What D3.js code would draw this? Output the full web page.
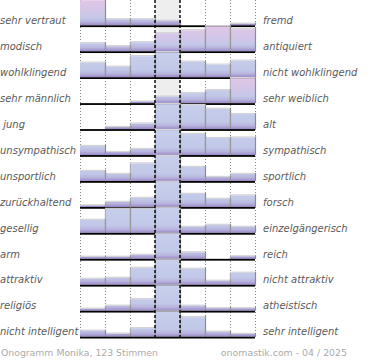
<!DOCTYPE html>
<html>
<head>
<meta charset="utf-8">
<script src="https://cdn.jsdelivr.net/npm/d3@7"></script>
<style>
  html, body { margin: 0; padding: 0; background: #fff; }
  svg { display: block; }
  text { white-space: pre; }
</style>
</head>
<body>
<svg id="chart" width="370" height="360"></svg>
<script>
// ---- data ----
const leftLabels = ["sehr vertraut", "modisch", "wohlklingend", "sehr männlich", " jung",
  "unsympathisch", "unsportlich", "zurückhaltend", "gesellig", "arm", "attraktiv", "religiös", "nicht intelligent"];
const rightLabels = ["fremd", "antiquiert", "nicht wohlklingend", "sehr weiblich", "alt",
  "sympathisch", "sportlich", "forsch", "einzelgängerisch", "reich", "nicht attraktiv", "atheistisch", "sehr intelligent"];
// relative bar heights (row maximum = 100), 7 scale steps per row
const ratings = [
  [100, 24, 24, 18, 0, 0, 6],
  [32, 20, 36, 72, 84, 100, 88],
  [58, 42, 84, 100, 62, 50, 66],
  [0, 0, 6, 26, 40, 52, 100],
  [0, 8, 22, 100, 96, 81, 60],
  [36, 12, 24, 100, 84, 68, 70],
  [40, 28, 70, 100, 56, 16, 28],
  [6, 20, 36, 100, 52, 32, 46],
  [52, 96, 96, 100, 24, 32, 24],
  [8, 8, 16, 100, 26, 0, 10],
  [24, 28, 68, 100, 64, 16, 48],
  [8, 20, 46, 100, 20, 10, 10],
  [24, 12, 34, 100, 78, 20, 11]
];
// bars marked as above-average (drawn with pink tint)
const highlighted = [
  [1, 0, 0, 0, 0, 0, 0],
  [0, 0, 0, 1, 1, 1, 1],
  [0, 0, 0, 0, 0, 0, 0],
  [0, 0, 0, 0, 0, 0, 1],
  [0, 0, 0, 0, 0, 0, 0],
  [0, 0, 0, 0, 0, 0, 0],
  [0, 0, 0, 0, 0, 0, 0],
  [0, 0, 0, 0, 0, 0, 0],
  [0, 0, 0, 0, 0, 0, 0],
  [0, 0, 0, 0, 0, 0, 0],
  [0, 0, 0, 0, 0, 0, 0],
  [0, 0, 0, 0, 0, 0, 0],
  [0, 0, 0, 0, 0, 0, 0]
];
const steps = [1, 2, 3, 4, 5, 6, 7];
const footerLeft = "Onogramm Monika, 123 Stimmen";
const footerRight = "onomastik.com - 04 / 2025";

// ---- layout ----
const svg = d3.select("#chart");
const rowStep = 25.95, rowOffset = 0.3, barMax = 25;
const plotLeft = 80, plotRight = 255;
const x = d3.scaleBand().domain(steps).range([plotLeft, plotRight]).paddingInner(0).paddingOuter(0);
const rows = d3.scaleLinear().domain([0, 1]).range([rowOffset, rowOffset + rowStep]);
const h = d3.scaleLinear().domain([0, 100]).range([0, barMax]);
const plotBottom = rows(ratings.length - 1) + barMax + 2;

const defs = svg.append("defs");
function grad(id, stops) {
  const g = defs.append("linearGradient").attr("id", id)
    .attr("gradientUnits", "userSpaceOnUse").attr("x1", 0).attr("x2", 0).attr("y1", 0).attr("y2", barMax);
  stops.forEach(s => g.append("stop").attr("offset", s[0]).attr("stop-color", s[1]));
}
grad("gBlue", [[0, "#c7cfeb"], [0.7, "#c2c8e8"], [0.86, "#b8b4de"], [1, "#9a88c6"]]);
grad("gPink", [[0, "#e0c6e6"], [0.45, "#d2c6e8"], [0.72, "#c4c8e8"], [0.86, "#b8b4de"], [1, "#9a88c6"]]);

// middle column background
svg.append("rect")
  .attr("x", x(4)).attr("y", 0).attr("width", x.bandwidth()).attr("height", plotBottom)
  .attr("fill", "#eeeeee");

// dotted grid lines
const boundaries = [plotLeft].concat(steps.map(s => x(s) + x.bandwidth()));
svg.append("g").selectAll("line")
  .data(boundaries.filter((b, i) => i !== 3 && i !== 4))
  .join("line")
  .attr("x1", d => d + 0.5).attr("x2", d => d + 0.5)
  .attr("y1", 0).attr("y2", plotBottom)
  .attr("stroke", "#888").attr("stroke-width", 1).attr("stroke-dasharray", "1,2");

// rows
ratings.forEach((vals, r) => {
  const g = svg.append("g").attr("transform", `translate(0,${rows(r)})`);
  const data = vals.map((v, i) => ({ step: steps[i], v, hl: highlighted[r][i] }));
  // top shadow line
  g.selectAll("rect.top").data(data.filter(d => d.v > 0)).join("rect").attr("class", "top")
    .attr("x", d => x(d.step)).attr("width", x.bandwidth() + 1)
    .attr("y", d => barMax - h(d.v) - 1.2).attr("height", 1.2)
    .attr("fill", "#d4d4d4");
  g.selectAll("rect.bar").data(data.filter(d => d.v > 0)).join("rect").attr("class", "bar")
    .attr("x", d => x(d.step)).attr("width", x.bandwidth())
    .attr("y", d => barMax - h(d.v)).attr("height", d => h(d.v))
    .attr("fill", d => d.hl ? "url(#gPink)" : "url(#gBlue)");
  // side edges
  g.selectAll("line.edge").data(data.filter(d => d.v > 0)).join("line").attr("class", "edge")
    .attr("x1", d => x(d.step) + x.bandwidth() + 0.5).attr("x2", d => x(d.step) + x.bandwidth() + 0.5)
    .attr("y1", d => barMax - h(d.v) - 1).attr("y2", barMax)
    .attr("stroke", "#8c8c8c").attr("stroke-width", 1.2);
  g.selectAll("line.ledge").data(data.filter(d => d.v > 0 && d.step > 1)).join("line").attr("class", "ledge")
    .attr("x1", d => x(d.step) + 0.3).attr("x2", d => x(d.step) + 0.3)
    .attr("y1", d => barMax - h(d.v)).attr("y2", barMax)
    .attr("stroke", "#a0a0a0").attr("stroke-width", 0.8);
  // baseline
  g.append("rect").attr("x", plotLeft).attr("width", plotRight - plotLeft)
    .attr("y", barMax).attr("height", 1.8).attr("fill", "#000");
  // labels
  g.append("text").attr("x", 0).attr("y", barMax - 1.3)
    .attr("font-family", "DejaVu Sans").attr("font-style", "italic").attr("font-size", 10)
    .attr("fill", "#5a5a5a").text(leftLabels[r]);
  g.append("text").attr("x", 263).attr("y", barMax - 1.3)
    .attr("font-family", "DejaVu Sans").attr("font-style", "italic").attr("font-size", 10)
    .attr("fill", "#5a5a5a").text(rightLabels[r]);
});

// dashed middle lines
svg.append("g").selectAll("line")
  .data([boundaries[3], boundaries[4]])
  .join("line")
  .attr("x1", d => d).attr("x2", d => d)
  .attr("y1", 0).attr("y2", plotBottom)
  .attr("stroke", "#000").attr("stroke-width", 1.4).attr("stroke-dasharray", "3,2");

// footer
svg.append("text").attr("x", 1).attr("y", 356)
  .attr("font-family", "DejaVu Sans").attr("font-size", 9.3).attr("fill", "#ababab").text(footerLeft);
svg.append("text").attr("x", 347).attr("y", 356).attr("text-anchor", "end")
  .attr("font-family", "DejaVu Sans").attr("font-size", 9.4).attr("fill", "#ababab").text(footerRight);
</script>
</body>
</html>
